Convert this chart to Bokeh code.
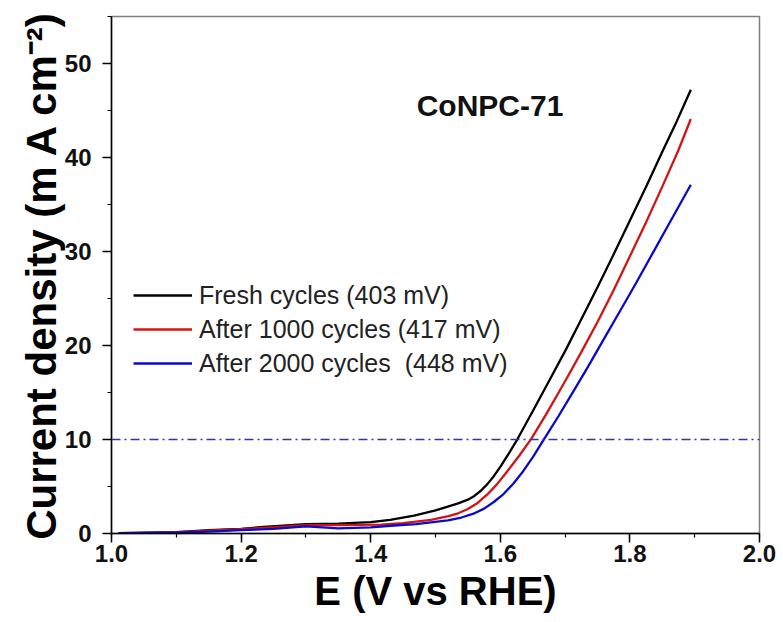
from bokeh.plotting import figure
from bokeh.models import (Legend, LegendItem, Span, Label, SingleIntervalTicker,
                          PrintfTickFormatter, Range1d)
from bokeh.embed import file_html
from bokeh.resources import INLINE

# ---- data ----
E_fresh = [1.01, 1.10, 1.15, 1.20, 1.235, 1.30, 1.35, 1.40, 1.43, 1.467, 1.50, 1.519,
           1.535, 1.55, 1.56, 1.57, 1.58, 1.59, 1.601, 1.614, 1.627, 1.65, 1.675, 1.70,
           1.725, 1.75, 1.775, 1.80, 1.825, 1.85, 1.87, 1.894]
J_fresh = [0.05, 0.15, 0.35, 0.5, 0.7, 1.0, 1.05, 1.2, 1.45, 1.9, 2.45, 2.85,
           3.2, 3.6, 4.0, 4.55, 5.25, 6.1, 7.2, 8.6, 10.1, 13.0, 16.2, 19.4,
           22.8, 26.2, 29.7, 33.3, 36.9, 40.6, 43.5, 47.2]

E_1000 = [1.01, 1.10, 1.15, 1.20, 1.25, 1.30, 1.35, 1.416, 1.45, 1.493, 1.52, 1.535,
          1.55, 1.565, 1.58, 1.595, 1.61, 1.63, 1.648, 1.67, 1.70, 1.725, 1.75,
          1.775, 1.80, 1.825, 1.85, 1.875, 1.894]
J_1000 = [0.03, 0.12, 0.3, 0.45, 0.65, 0.9, 0.9, 0.95, 1.1, 1.45, 1.85, 2.15,
          2.6, 3.25, 4.15, 5.25, 6.55, 8.35, 10.1, 12.6, 16.2, 19.3, 22.5,
          25.9, 29.5, 33.1, 36.9, 40.8, 44.1]

E_2000 = [1.01, 1.10, 1.15, 1.20, 1.25, 1.30, 1.35, 1.40, 1.436, 1.47, 1.519, 1.54,
          1.56, 1.575, 1.59, 1.605, 1.62, 1.635, 1.65, 1.668, 1.69, 1.71, 1.735,
          1.76, 1.785, 1.81, 1.835, 1.86, 1.894]
J_2000 = [0.02, 0.1, 0.2, 0.35, 0.5, 0.75, 0.55, 0.65, 0.85, 1.0, 1.4, 1.7,
          2.15, 2.65, 3.35, 4.2, 5.3, 6.6, 8.1, 10.1, 12.5, 14.8, 17.7,
          20.7, 23.7, 26.7, 29.8, 32.9, 37.1]

series_labels = ["Fresh cycles (403 mV)", "After 1000 cycles (417 mV)",
                 "After 2000 cycles  (448 mV)"]
series_colors = ["#000000", "#d41414", "#0a0ac8"]
ref_level = 10
title_text = "CoNPC-71"
title_pos = (1.471, 45.5)

FONT = "Liberation Sans"

p = figure(width=783, height=622, output_backend="svg", toolbar_location=None,
           x_range=Range1d(1.0, 2.0), y_range=Range1d(0, 55),
           min_border_left=111, min_border_right=24, min_border_top=16,
           min_border_bottom=89)
p.background_fill_color = "white"
p.border_fill_color = "white"
p.grid.visible = False
p.outline_line_color = "#808080"
p.outline_line_width = 1.5

p.xaxis.ticker = SingleIntervalTicker(interval=0.2, num_minor_ticks=2)
p.yaxis.ticker = SingleIntervalTicker(interval=10, num_minor_ticks=2)
p.xaxis.formatter = PrintfTickFormatter(format="%.1f")

for ax in (p.xaxis, p.yaxis):
    ax.axis_line_color = "black"
    ax.axis_line_width = 1.5
    ax.major_tick_line_color = "black"
    ax.minor_tick_line_color = "black"
    ax.major_tick_line_width = 1.5
    ax.minor_tick_line_width = 1.2
    ax.major_tick_in = 0
    ax.major_tick_out = 9
    ax.minor_tick_in = 0
    ax.minor_tick_out = 4
    ax.major_label_text_font = FONT
    ax.major_label_text_font_style = "bold"
    ax.major_label_text_font_size = "24px"
    ax.major_label_text_color = "#111111"
    ax.axis_label_text_font = FONT
    ax.axis_label_text_font_style = "bold"
    ax.axis_label_text_color = "black"

p.xaxis.major_label_standoff = 2
p.yaxis.major_label_standoff = 11
p.xaxis.axis_label = "E (V vs RHE)"
p.xaxis.axis_label_text_font_size = "40px"
p.xaxis.axis_label_standoff = 4
p.yaxis.axis_label = "Current density (m A cm\u207b\u00b2)"
p.yaxis.axis_label_text_font_size = "42px"
p.yaxis.axis_label_standoff = -3

p.add_layout(Span(location=ref_level, dimension="width", line_color="#3535a5",
                  line_width=1.4, line_dash="9 4 2 4"))

renderers = []
for xs, ys, col in ((E_fresh, J_fresh, series_colors[0]),
                    (E_1000, J_1000, series_colors[1]),
                    (E_2000, J_2000, series_colors[2])):
    renderers.append(p.line(xs, ys, line_color=col, line_width=2.3,
                            line_join="round"))

legend = Legend(items=[LegendItem(label=lab, renderers=[r])
                       for lab, r in zip(series_labels, renderers)],
                location=(22, 153))
legend.background_fill_alpha = 0
legend.border_line_alpha = 0
legend.padding = 0
legend.margin = 0
legend.spacing = 0
legend.label_height = 34
legend.glyph_height = 34
legend.glyph_width = 59
legend.label_standoff = 7
legend.label_text_font = FONT
legend.label_text_font_size = "25px"
legend.label_text_color = "#222222"
p.add_layout(legend)

p.add_layout(Label(x=title_pos[0], y=title_pos[1], text=title_text,
                   text_font=FONT, text_font_style="bold", text_font_size="30px",
                   text_baseline="middle", text_align="left", text_color="#111111"))

open("out.html", "w").write(file_html(p, INLINE))
